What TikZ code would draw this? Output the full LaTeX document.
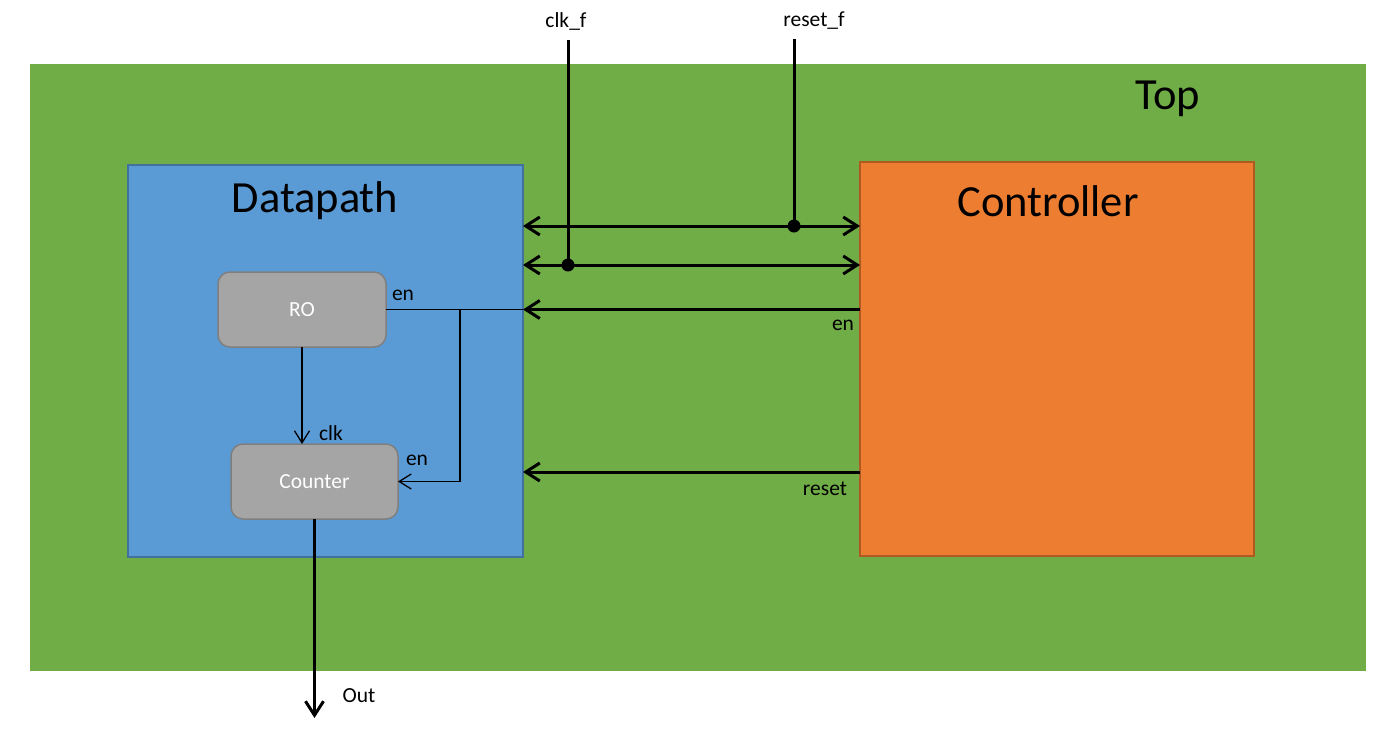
\documentclass[tikz,border=0pt]{standalone}
\usepackage{fontspec}
\setmainfont{Carlito}
\usetikzlibrary{arrows.meta}
\definecolor{topgreen}{HTML}{70AD47}
\definecolor{dpblue}{HTML}{5B9BD5}
\definecolor{dpborder}{HTML}{41719C}
\definecolor{ctorange}{HTML}{ED7D31}
\definecolor{ctborder}{HTML}{AE5A21}
\definecolor{blockgray}{HTML}{A5A5A5}
\definecolor{blockborder}{HTML}{7F7F7F}
\begin{document}
\begin{tikzpicture}[x=1pt,y=-1pt,
  box/.style={anchor=north west, inner sep=0pt, outer sep=0pt},
  block/.style={box, draw=blockborder, line width=1.5pt, fill=blockgray, rounded corners=12pt,
    text=white, font=\fontsize{21.5}{25}\selectfont},
  lbl/.style={font=\fontsize{21.5}{25}\selectfont, inner sep=0pt},
  title/.style={font=\fontsize{44.5}{52}\selectfont, inner sep=0pt},
  bigtip/.tip={Straight Barb[length=14pt,width=18pt]},
  smalltip/.tip={Straight Barb[length=12pt,width=15pt]},
  bus/.style={line width=3pt},
  wire/.style={line width=1.3pt},
  junction/.style={fill=black}
]
\useasboundingbox (0,0) rectangle (1382,732);
% containers
\node[box, fill=topgreen, minimum width=1336pt, minimum height=607pt] (top) at (30,64) {};
\node[title] (toplbl) at (1168,99) {Top};
\node[box, fill=dpblue, draw=dpborder, line width=1.5pt, minimum width=395pt, minimum height=392pt] (dp) at (128,165) {};
\node[title] (dplbl) at (315,201) {Datapath};
\node[box, fill=ctorange, draw=ctborder, line width=1.5pt, minimum width=394pt, minimum height=394pt] (ct) at (860,162) {};
\node[title] (ctlbl) at (1048,201) {Controller};
% blocks
\node[block, minimum width=168pt, minimum height=75pt] (ro) at (218,272) {RO};
\node[block, minimum width=167pt, minimum height=75pt] (cnt) at (231,444) {Counter};
% coordinates
\coordinate (clkin) at (568,40);
\coordinate (rstin) at (794,39);
\coordinate (rstj) at (794,226);
\coordinate (clkj) at (568,265);
\coordinate (ensplit) at (460,309.5);
\coordinate (rstrow) at (0,472);
\coordinate (outend) at (314.5,718);
% buses
\draw[bus, bigtip-bigtip] (dp.east |- rstj) -- (ct.west |- rstj);
\draw[bus, bigtip-bigtip] (dp.east |- clkj) -- (ct.west |- clkj);
\draw[bus] (rstin) -- (rstj);
\draw[bus] (clkin) -- (clkj);
\fill[junction] (rstj) circle (6.5pt);
\fill[junction] (clkj) circle (6.5pt);
\node[lbl] (clkflbl) at (566,21) {clk\_f};
\node[lbl] (rstflbl) at (814,21) {reset\_f};
% en
\draw[bus, -bigtip] (ct.west |- ensplit) -- (dp.east |- ensplit);
\draw[wire] (ro.east) -- (dp.east |- ensplit);
\draw[wire, -smalltip] (ensplit) |- (cnt.east);
\node[lbl] (enlbl1) at (403,295) {en};
\node[lbl] (enlbl2) at (843,325) {en};
\node[lbl] (enlbl3) at (417,460) {en};
% reset
\draw[bus, -bigtip] (ct.west |- rstrow) -- (dp.east |- rstrow);
\node[lbl] (rstlbl) at (825,489) {reset};
% clk
\draw[wire, -smalltip] (ro.south) -- (ro.south |- cnt.north);
\node[lbl] (clklbl) at (331,433) {clk};
% out
\draw[bus, -bigtip] (cnt.south) -- (outend);
\node[lbl] (outlbl) at (359,696) {Out};
\end{tikzpicture}
\end{document}
